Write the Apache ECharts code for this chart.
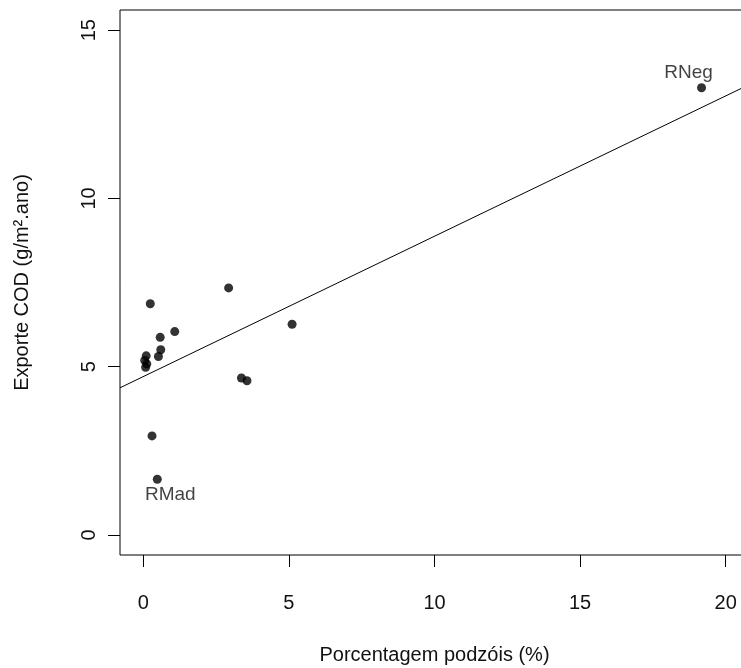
<!DOCTYPE html>
<html>
<head>
<meta charset="utf-8">
<script src="https://cdn.jsdelivr.net/npm/echarts@6/dist/echarts.min.js"></script>
<style>
html,body{margin:0;padding:0;background:#fff;}
#chart{width:741px;height:668px;}
</style>
</head>
<body>
<div id="chart"></div>
<script>
// Porcentagem de podzóis (%) por bacia
var pctPodzol = [0.24, 2.93, 1.08, 0.58, 0.60, 0.52, 0.10, 0.05, 0.12, 0.08, 5.11, 3.37, 3.56, 0.30, 0.48, 19.17];
// Exporte COD (g/m².ano)
var codExport = [6.87, 7.34, 6.04, 5.87, 5.50, 5.30, 5.32, 5.18, 5.08, 4.98, 6.26, 4.66, 4.58, 2.94, 1.65, 13.29];
// Rótulos de pontos
var siteLabels = ['', '', '', '', '', '', '', '', '', '', '', '', '', '', 'RMad', 'RNeg'];
// Reta ajustada (extremos)
var fitX = [-0.8, 20.8];
var fitY = [4.37, 13.38];
// Ticks
var xTicks = [0, 5, 10, 15, 20];
var yTicks = [0, 5, 10, 15];

var FONT = '"Liberation Sans", Arial, sans-serif';
var TXT = '#111';

var pts = pctPodzol.map(function (x, i) {
  var item = { value: [x, codExport[i]] };
  if (siteLabels[i]) {
    var top = siteLabels[i] === 'RNeg';
    item.label = {
      show: true,
      formatter: siteLabels[i],
      position: top ? 'top' : 'bottom',
      offset: top ? [-13, 0] : [13, 0],
      fontFamily: FONT,
      fontSize: 19,
      color: TXT,
      distance: 1
    };
  }
  return item;
});

var fitData = fitX.map(function (x, i) { return [x, fitY[i]]; });

var chart = echarts.init(document.getElementById('chart'), null, { renderer: 'canvas' });
chart.setOption({
  animation: false,
  backgroundColor: '#ffffff',
  grid: {
    left: 120, top: 10, right: -8, bottom: 113,
    outerBoundsMode: 'none',
    containLabel: false,
    show: true, borderColor: '#000', borderWidth: 1, backgroundColor: 'transparent'
  },
  xAxis: {
    type: 'value', min: -0.8, max: 20.8,
    splitLine: { show: false },
    axisLine: { show: false, onZero: false },
    axisTick: { show: true, customValues: xTicks, length: 12, lineStyle: { color: '#000', width: 1 } },
    axisLabel: { customValues: xTicks, fontFamily: FONT, fontSize: 20, color: TXT, margin: 38 },
    name: 'Porcentagem podzóis (%)',
    nameLocation: 'middle', nameGap: 90,
    nameTextStyle: { fontFamily: FONT, fontSize: 20, color: TXT }
  },
  yAxis: {
    type: 'value', min: -0.6, max: 15.6,
    splitLine: { show: false },
    axisLine: { show: false, onZero: false },
    axisTick: { show: true, customValues: yTicks, length: 12, lineStyle: { color: '#000', width: 1 } },
    axisLabel: { customValues: yTicks, fontFamily: FONT, fontSize: 20, color: TXT, margin: 21, rotate: 90, align: 'center', verticalAlign: 'bottom' },
    name: 'Exporte COD (g/m².ano)',
    nameLocation: 'middle', nameGap: 88,
    nameTextStyle: { fontFamily: FONT, fontSize: 20, color: TXT }
  },
  series: [
    {
      type: 'line',
      data: fitData,
      symbol: 'none',
      lineStyle: { color: '#000', width: 1 },
      silent: true,
      z: 2
    },
    {
      type: 'scatter',
      data: pts,
      symbol: 'circle',
      symbolSize: 9,
      itemStyle: { color: '#000' },
      z: 3
    }
  ]
});
</script>
</body>
</html>
